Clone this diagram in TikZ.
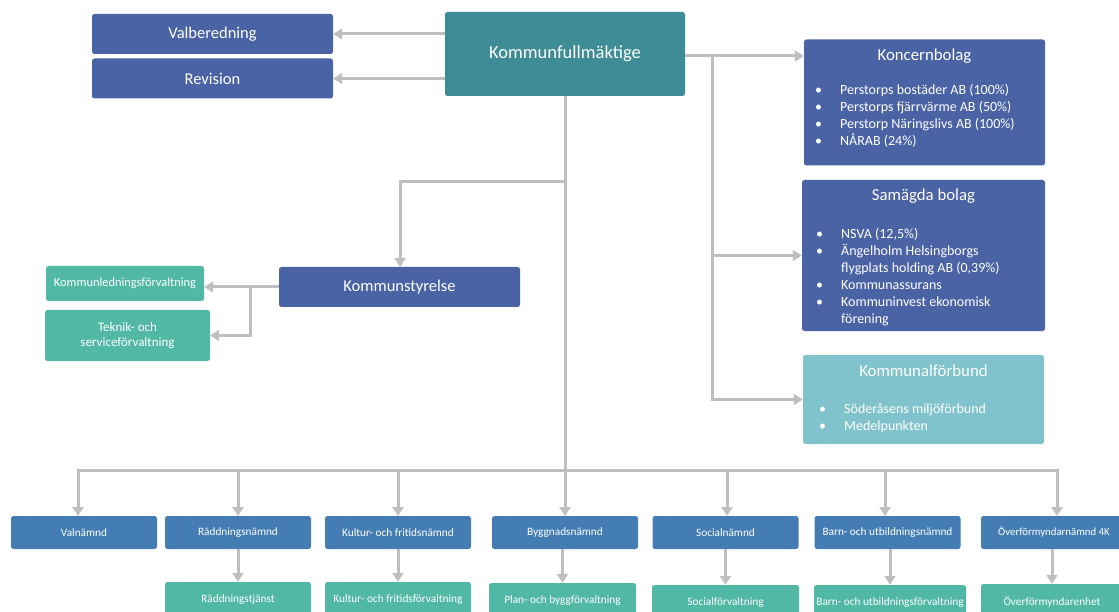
\documentclass[tikz,border=0pt]{standalone}
\usepackage{fontspec}
\setmainfont{Carlito}
\usetikzlibrary{arrows.meta}
\definecolor{dblue}{HTML}{4A63A5}
\definecolor{mblue}{HTML}{447DB4}
\definecolor{kfteal}{HTML}{3E8C95}
\definecolor{lteal}{HTML}{80C3CC}
\definecolor{grn}{HTML}{52B8A6}
\definecolor{lin}{HTML}{BFBFBF}
\tikzset{
  box/.style={rounded corners=2.5pt, inner sep=0pt, text=white, align=center},
  conn/.style={draw=lin, line width=3pt},
  arr/.style={conn, -{Triangle[length=9pt,width=11pt]}},
  ttl/.style={text=white, inner sep=0pt, font=\fontsize{16.8}{20}\selectfont},
  lst/.style={text=white, inner sep=0pt, align=left, anchor=north west, font=\fontsize{14}{17}\selectfont},
  small/.style={font=\fontsize{11.3}{13}\selectfont}
}
\newcommand{\bul}[1]{\makebox[25pt][l]{\textbullet}#1}
\newcommand{\cont}[1]{\makebox[25pt][l]{}#1}
\begin{document}
\begin{tikzpicture}[x=1pt,y=-1pt]
\useasboundingbox (0,0) rectangle (1119,612);
% top
\node[box, fill=dblue, minimum width=241pt, minimum height=40pt, font=\fontsize{16.5}{19}\selectfont] (val) at (212.5,34) {Valberedning};
\node[box, fill=dblue, minimum width=241pt, minimum height=40pt, font=\fontsize{16.5}{19}\selectfont] (rev) at (212.5,78.5) {Revision};
\node[box, fill=kfteal, minimum width=240pt, minimum height=84pt, font=\fontsize{18.5}{22}\selectfont] (kf) at (565,54) {Kommunfullmäktige};
% right boxes
\node[box, fill=dblue, minimum width=241pt, minimum height=126pt] (kon) at (924.5,102.5) {};
\node[ttl] (kont) at (924.5,56) {Koncernbolag};
\node[lst] (konl) at (815,84) {\bul{Perstorps bostäder AB (100\%)}\\\bul{Perstorps fjärrvärme AB (50\%)}\\\bul{Perstorp Näringslivs AB (100\%)}\\\bul{NÅRAB (24\%)}};
\node[box, fill=dblue, minimum width=243pt, minimum height=151pt] (sam) at (923.5,255.5) {};
\node[ttl] (samt) at (923.5,196) {Samägda bolag};
\node[lst] (saml) at (816,228) {\bul{NSVA (12,5\%)}\\\bul{Ängelholm Helsingborgs}\\\cont{flygplats holding AB (0,39\%)}\\\bul{Kommunassurans}\\\bul{Kommuninvest ekonomisk}\\\cont{förening}};
\node[box, fill=lteal, minimum width=241pt, minimum height=89pt] (kfb) at (923.5,399.5) {};
\node[ttl] (kfbt) at (923.5,371) {Kommunalförbund};
\node[lst] (kfbl) at (819,403) {\bul{Söderåsens miljöförbund}\\\bul{Medelpunkten}};
% kommunstyrelse
\node[box, fill=dblue, minimum width=241pt, minimum height=40pt, font=\fontsize{16.5}{19}\selectfont] (ks) at (399.5,287) {Kommunstyrelse};
\node[box, fill=grn, minimum width=158pt, minimum height=35pt, font=\fontsize{12.4}{14}\selectfont] (kl) at (125,283.5) {Kommunledningsförvaltning};
\node[box, fill=grn, minimum width=165pt, minimum height=51pt, font=\fontsize{13}{15}\selectfont] (tek) at (127.5,335.5) {Teknik- och\\serviceförvaltning};
% nämnder
\foreach \n/\x/\t in {valn/84/Valnämnd, radn/238/Räddningsnämnd, kuln/398/Kultur- och fritidsnämnd, bygn/565/Byggnadsnämnd, socn/725.5/Socialnämnd, barn/887.5/Barn- och utbildningsnämnd}
  \node[box, fill=mblue, minimum width=146pt, minimum height=33pt, small] (\n) at (\x,532.5) {\t};
\node[box, fill=mblue, minimum width=146pt, minimum height=33pt, font=\fontsize{10.8}{13}\selectfont] (overn) at (1054,532.5) {Överförmyndarnämnd 4K};
% förvaltningar
\node[box, fill=grn, minimum width=146pt, minimum height=36pt, small] (radf) at (238,600) {Räddningstjänst};
\node[box, fill=grn, minimum width=146pt, minimum height=36pt, small] (kulf) at (398,600) {Kultur- och fritidsförvaltning};
\node[box, fill=grn, minimum width=147pt, minimum height=36pt, small] (bygf) at (562.5,601) {Plan- och byggförvaltning};
\node[box, fill=grn, minimum width=147pt, minimum height=36pt, small] (socf) at (725.5,603) {Socialförvaltning};
\node[box, fill=grn, minimum width=152pt, minimum height=36pt, small] (barf) at (890,603) {Barn- och utbildningsförvaltning};
\node[box, fill=grn, minimum width=142pt, minimum height=36pt, small] (overf) at (1052,602) {Överförmyndarenhet};
% connectors
\draw[arr] (kf.west |- val.east) -- (val.east);
\draw[arr] (kf.west |- rev.east) -- (rev.east);
\coordinate (rj) at (712,56);
\draw[arr] (kf.east |- rj) -- (kon.west |- rj);
\draw[conn] (rj) -- (712,399.5);
\draw[arr] (712,255.5) -- (sam.west);
\draw[arr] (710.5,399.5) -- (kfb.west);
\coordinate (bus) at (565,470);
\draw[conn] (kf.south) -- (bus);
\draw[arr] (565,182) -- (400,182) -- (400,267);
\draw[arr] (ks.west) -- (kl.east |- ks.west);
\draw[arr] (250,287) -- (250,335.5) -- (tek.east);
\draw[conn] (76.5,470) -- (1058.5,470);
\draw[arr] (78,470) -- (78,516);
\foreach \n/\x in {radn/238, kuln/398, bygn/565, socn/727, barn/885, overn/1057}
  \draw[arr] (\x,470) -- (\x,516);
\foreach \a/\b in {radn/radf, kuln/kulf, bygn/bygf, socn/socf, barn/barf, overn/overf}
  \draw[arr] (\a.south -| \b.north) -- (\b.north);
\end{tikzpicture}
\end{document}
